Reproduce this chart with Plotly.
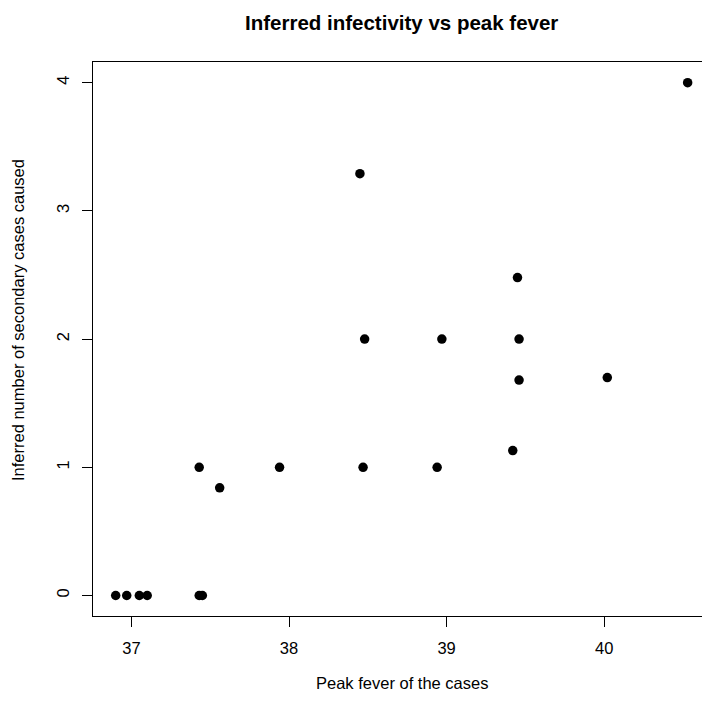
import plotly.graph_objects as go

# Data
peak_fever = [36.90, 36.97, 37.05, 37.10, 37.43, 37.45, 37.43, 37.56, 37.94, 38.45,
              38.48, 38.47, 38.97, 38.94, 39.45, 39.46, 39.46, 39.42, 40.02, 40.53]
secondary_cases = [0, 0, 0, 0, 0, 0, 1, 0.84, 1, 3.29,
                   2, 1, 2, 1, 2.48, 2, 1.68, 1.13, 1.70, 4]
x_ticks = [37, 38, 39, 40]
y_ticks = [0, 1, 2, 3, 4]

title_text = "Inferred infectivity vs peak fever"
x_title = "Peak fever of the cases"
y_title = "Inferred number of secondary cases caused"

FONT = "Liberation Sans, Arial, Helvetica, sans-serif"
W = H = 702
L, R, T, B = 93, 0, 62, 86
pw = W - L - R
ph = H - T - B

fig = go.Figure()
fig.add_trace(go.Scatter(
    x=peak_fever, y=secondary_cases, mode="markers",
    marker=dict(color="black", size=9.5, line=dict(width=0)),
    showlegend=False, hoverinfo="skip",
))

fig.update_layout(
    width=W, height=H,
    margin=dict(l=L, r=R, t=T, b=B, pad=0),
    paper_bgcolor="white", plot_bgcolor="white",
    font=dict(family=FONT, size=16.5, color="black"),
    xaxis=dict(
        range=[36.756, 40.621], tickvals=x_ticks, ticktext=[str(v) for v in x_ticks],
        showgrid=False, zeroline=False, showline=True, linecolor="black", linewidth=1,
        mirror=True, ticks="outside", ticklen=10, tickcolor="black", tickwidth=1,
        tickfont=dict(family=FONT, size=16.5, color="black"),
        ticklabelstandoff=7,
    ),
    yaxis=dict(
        range=[-0.160, 4.161], tickvals=y_ticks, ticktext=[str(v) for v in y_ticks],
        showgrid=False, zeroline=False, showline=True, linecolor="black", linewidth=1,
        mirror=False, ticks="outside", ticklen=10, tickcolor="black", tickwidth=1,
        tickangle=-90,
        tickfont=dict(family=FONT, size=16.5, color="black"),
        ticklabelstandoff=6,
    ),
)

cx = (401.5 - L) / pw
fig.add_annotation(text="<b>" + title_text + "</b>", xref="paper", yref="paper",
                   x=cx, y=1, yshift=40, xanchor="center", yanchor="middle",
                   showarrow=False, font=dict(family=FONT, size=20.5, color="black"))
fig.add_annotation(text=x_title, xref="paper", yref="paper",
                   x=cx, y=0, yshift=-67, xanchor="center", yanchor="middle",
                   showarrow=False, font=dict(family=FONT, size=16.5, color="black"))
fig.add_annotation(text=y_title, xref="paper", yref="paper",
                   x=0, y=(H - B - 320) / ph, xshift=-75, xanchor="center", yanchor="middle",
                   textangle=-90, showarrow=False,
                   font=dict(family=FONT, size=16.5, color="black"))

fig.write_html("out.html")
